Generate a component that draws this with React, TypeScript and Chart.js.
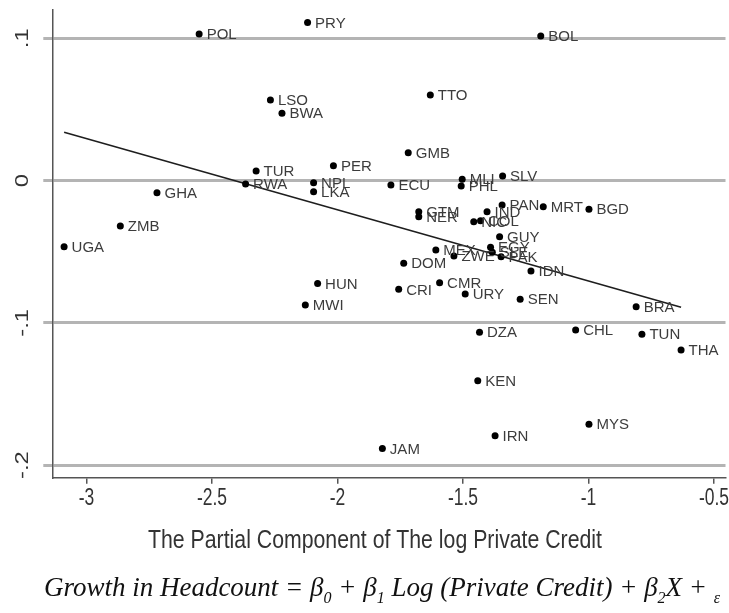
import React, { useEffect, useRef } from "react";
import { Chart, registerables } from "chart.js";

Chart.register(...registerables);

// ---- data ----
const countries = [
  "POL", "PRY", "BOL", "TTO", "LSO", "BWA", "GMB", "PER", "TUR", "RWA",
  "NPL", "LKA", "ECU", "MLI", "PHL", "SLV", "GHA", "ZMB", "UGA", "GTM",
  "NER", "PAN", "MRT", "BGD", "IND", "NIC", "COL", "GUY", "MEX", "ZWE",
  "EGY", "SLE", "PAK", "IDN", "DOM", "CMR", "CRI", "HUN", "MWI", "URY",
  "SEN", "BRA", "DZA", "CHL", "TUN", "THA", "KEN", "MYS", "IRN", "JAM",
];
const creditX = [
  -2.551, -2.119, -1.19, -1.63, -2.267, -2.221, -1.718, -2.016, -2.324, -2.366,
  -2.095, -2.095, -1.787, -1.503, -1.507, -1.342, -2.719, -2.865, -3.089, -1.676,
  -1.676, -1.344, -1.18, -0.998, -1.404, -1.457, -1.43, -1.354, -1.608, -1.536,
  -1.39, -1.383, -1.348, -1.229, -1.736, -1.593, -1.756, -2.079, -2.128, -1.491,
  -1.272, -0.81, -1.434, -1.051, -0.787, -0.631, -1.441, -0.998, -1.372, -1.821,
];
const headcountY = [
  0.103, 0.1112, 0.1016, 0.0601, 0.0566, 0.0473, 0.0196, 0.0104, 0.0067, -0.0024,
  -0.0015, -0.0079, -0.0031, 0.0009, -0.0038, 0.0032, -0.0086, -0.032, -0.0465, -0.0219,
  -0.0254, -0.0172, -0.0184, -0.0202, -0.0219, -0.029, -0.0283, -0.0395, -0.0488, -0.0531,
  -0.0469, -0.0504, -0.0536, -0.0636, -0.0582, -0.0718, -0.0765, -0.0723, -0.0875, -0.0798,
  -0.0835, -0.0887, -0.1067, -0.1051, -0.1081, -0.1192, -0.1407, -0.1714, -0.1794, -0.1883,
];
const fitX = [-3.089, -0.631];
const fitY = [0.034, -0.089];

const xTicks = [-3, -2.5, -2, -1.5, -1, -0.5];
const xTickLabels = ["-3", "-2.5", "-2", "-1.5", "-1", "-0.5"];
const yTicks = [0.1, 0, -0.1, -0.2];
const yTickLabels = [".1", "0", "-.1", "-.2"];

const xTitle = "The Partial Component of The log Private Credit";
const formulaParts: { t: string; sub?: boolean }[] = [
  { t: "Growth in Headcount = β" },
  { t: "0", sub: true },
  { t: " + β" },
  { t: "1", sub: true },
  { t: " Log (Private Credit) + β" },
  { t: "2", sub: true },
  { t: "X + " },
  { t: "ε", sub: true },
];

const W = 729;
const H = 613;
const SANS = '"Liberation Sans", Arial, sans-serif';

// draws text stretched/condensed along its own reading direction
function scaledText(ctx: CanvasRenderingContext2D, text: string, x: number, y: number, sx: number, rot = 0) {
  ctx.save();
  ctx.translate(x, y);
  if (rot) ctx.rotate(rot);
  ctx.scale(sx, 1);
  ctx.fillText(text, 0, 0);
  ctx.restore();
}

const tickLabelPlugin = {
  id: "narrowTicks",
  afterDraw(chart: any) {
    const ctx = chart.ctx as CanvasRenderingContext2D;
    const xs = chart.scales.x;
    const ys = chart.scales.y;
    ctx.save();
    ctx.fillStyle = "#333";
    ctx.textAlign = "center";
    ctx.textBaseline = "alphabetic";
    ctx.font = `23px ${SANS}`;
    xTicks.forEach((v, i) => {
      scaledText(ctx, xTickLabels[i], xs.getPixelForValue(v), 505, 0.76);
    });
    ctx.font = `19px ${SANS}`;
    yTicks.forEach((v, i) => {
      scaledText(ctx, yTickLabels[i], 27.5, ys.getPixelForValue(v), 1.25, -Math.PI / 2);
    });
    ctx.restore();
  },
};

const pointLabelPlugin = {
  id: "pointLabels",
  afterDatasetsDraw(chart: any) {
    const meta = chart.getDatasetMeta(0);
    const ctx = chart.ctx;
    ctx.save();
    ctx.font = `15px ${SANS}`;
    ctx.fillStyle = "#3c3c3c";
    ctx.textBaseline = "middle";
    ctx.textAlign = "left";
    meta.data.forEach((el: any, i: number) => {
      ctx.fillText(countries[i], el.x + 7.5, el.y + 1);
    });
    ctx.restore();
  },
};

const captionPlugin = {
  id: "captions",
  afterDraw(chart: any) {
    const ctx = chart.ctx as CanvasRenderingContext2D;
    ctx.save();
    ctx.fillStyle = "#333";
    ctx.textBaseline = "middle";
    ctx.textAlign = "center";
    ctx.font = `25px ${SANS}`;
    const tw = ctx.measureText(xTitle).width;
    scaledText(ctx, xTitle, 375, 541, 454 / tw);

    const mainFont = 'italic 27px "Liberation Serif", "Times New Roman", serif';
    const subFont = 'italic 16px "Liberation Serif", "Times New Roman", serif';
    ctx.fillStyle = "#111";
    ctx.textAlign = "left";
    ctx.textBaseline = "alphabetic";
    let total = 0;
    formulaParts.forEach((p) => {
      ctx.font = p.sub ? subFont : mainFont;
      total += ctx.measureText(p.t).width;
    });
    let x = 382 - total / 2;
    const base = 596;
    formulaParts.forEach((p) => {
      ctx.font = p.sub ? subFont : mainFont;
      ctx.fillText(p.t, x, p.sub ? base + 7 : base);
      x += ctx.measureText(p.t).width;
    });
    ctx.restore();
  },
};

export default function App() {
  const ref = useRef<HTMLCanvasElement | null>(null);

  useEffect(() => {
    if (!ref.current) return;
    const chart = new Chart(ref.current, {
      type: "scatter",
      data: {
        datasets: [
          {
            label: "countries",
            data: creditX.map((x, i) => ({ x, y: headcountY[i] })),
            backgroundColor: "#000",
            borderWidth: 0,
            pointRadius: 3.5,
            pointHoverRadius: 3.5,
          },
          {
            label: "fit",
            data: fitX.map((x, i) => ({ x, y: fitY[i] })),
            showLine: true,
            borderColor: "#1e1e1e",
            borderWidth: 1.6,
            pointRadius: 0,
            fill: false,
          } as any,
        ],
      },
      options: {
        responsive: false,
        animation: false,
        events: [],
        layout: { padding: { left: 0, right: 0, top: 10, bottom: 0 } },
        plugins: {
          legend: { display: false },
          tooltip: { enabled: false },
          title: { display: false },
        },
        scales: {
          x: {
            type: "linear",
            min: -3.136,
            max: -0.454,
            afterBuildTicks: (s: any) => {
              s.ticks = xTicks.map((v) => ({ value: v }));
            },
            afterFit: (s: any) => {
              s.height = H - 477.7;
              s.paddingLeft = 0;
              s.paddingRight = 0;
            },
            grid: {
              display: true,
              drawOnChartArea: false,
              drawTicks: true,
              tickLength: 6,
              color: "#555",
              lineWidth: 1.5,
            },
            border: { display: true, color: "#555", width: 1.5 },
            ticks: { display: false },
          },
          y: {
            type: "linear",
            min: -0.2089,
            max: 0.1199,
            afterBuildTicks: (s: any) => {
              s.ticks = yTicks.map((v) => ({ value: v }));
            },
            afterFit: (s: any) => {
              s.width = 52.3;
            },
            grid: {
              color: "#b4b4b4",
              lineWidth: 3,
              tickLength: 9,
              drawTicks: true,
            },
            border: { display: true, color: "#555", width: 1.5 },
            ticks: { display: false },
          },
        },
      },
      plugins: [pointLabelPlugin, tickLabelPlugin, captionPlugin],
    });
    return () => chart.destroy();
  }, []);

  return (
    <div style={{ position: "absolute", left: 0, top: 0, width: W, height: H, background: "#fff" }}>
      <canvas ref={ref} width={W} height={H} style={{ display: "block" }} />
    </div>
  );
}
